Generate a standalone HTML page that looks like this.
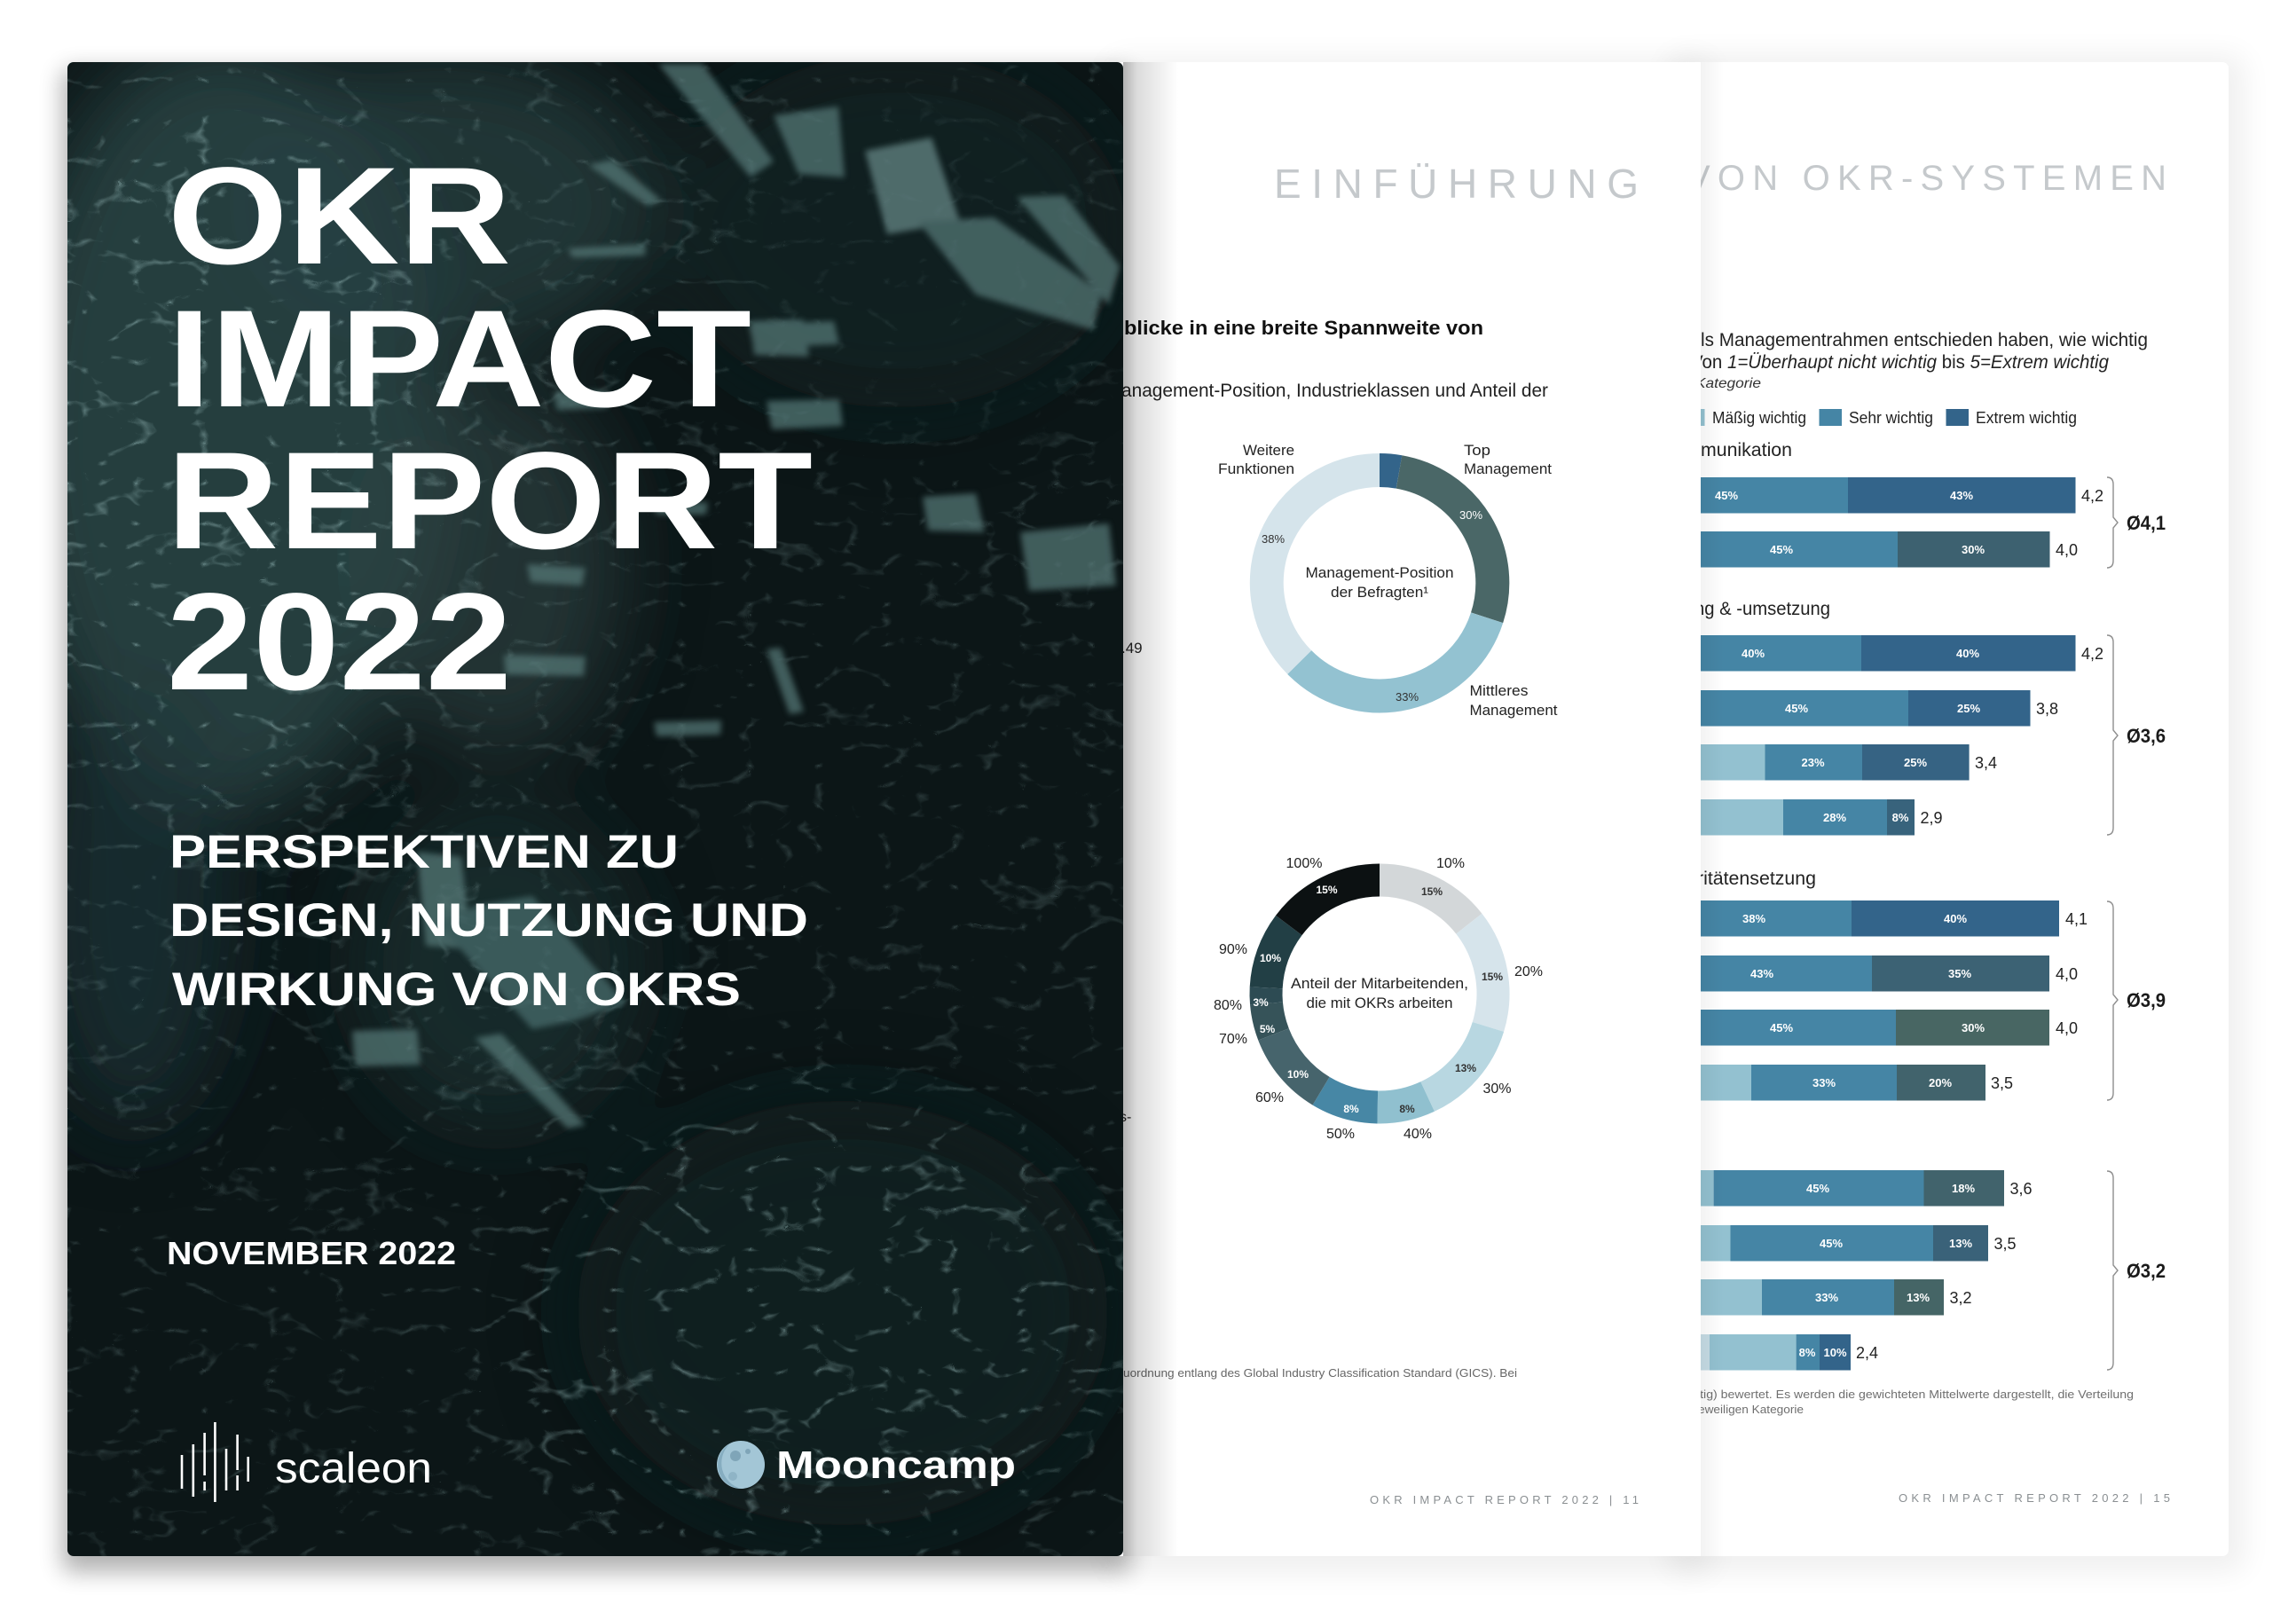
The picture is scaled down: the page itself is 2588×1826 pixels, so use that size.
<!DOCTYPE html>
<html lang="de">
<head>
<meta charset="utf-8">
<title>OKR Impact Report 2022</title>
<style>
  html,body{margin:0;padding:0;background:#ffffff;}
  body{width:2588px;height:1826px;overflow:hidden;}
  svg{display:block;}
  text{font-family:"Liberation Sans", Arial, sans-serif;}
</style>
</head>
<body>
<svg width="2588" height="1826" viewBox="0 0 2588 1826" xmlns="http://www.w3.org/2000/svg">
  <defs>
    <filter id="pageSh" filterUnits="userSpaceOnUse" x="0" y="0" width="2588" height="1826">
      <feGaussianBlur stdDeviation="16"/>
    </filter>
    <filter id="coverSh" filterUnits="userSpaceOnUse" x="0" y="0" width="2588" height="1826">
      <feGaussianBlur stdDeviation="13"/>
    </filter>
    <filter id="b45" filterUnits="userSpaceOnUse" x="0" y="0" width="1400" height="1826">
      <feGaussianBlur stdDeviation="45"/>
    </filter>
    <filter id="b3" filterUnits="userSpaceOnUse" x="0" y="0" width="1400" height="1826">
      <feGaussianBlur stdDeviation="3.5"/>
    </filter>
    <filter id="veins" filterUnits="userSpaceOnUse" x="76" y="70" width="1190" height="1684">
      <feTurbulence type="turbulence" baseFrequency="0.013 0.022" numOctaves="3" seed="5"/>
      <feColorMatrix type="matrix" values="0 0 0 0 0.32  0 0 0 0 0.50  0 0 0 0 0.50  -6 0 0 0 0.85"/>
    </filter>
    <mask id="veinMask" maskUnits="userSpaceOnUse" x="76" y="70" width="1190" height="1684">
      <rect x="76" y="70" width="1190" height="1684" fill="#777"/>
      <g filter="url(#b45)">
        <ellipse cx="250" cy="500" rx="250" ry="420" fill="#fff"/>
        <ellipse cx="900" cy="1500" rx="350" ry="260" fill="#eee"/>
        <ellipse cx="1050" cy="300" rx="220" ry="240" fill="#333"/>
      </g>
    </mask>
    <clipPath id="coverClip"><rect x="76" y="70" width="1190" height="1684" rx="7"/></clipPath>
    <clipPath id="midClip"><rect x="1250" y="70" width="667" height="1684" rx="6"/></clipPath>
    <clipPath id="rightClip"><rect x="1850" y="70" width="662" height="1684" rx="7"/></clipPath>
    <linearGradient id="spine" x1="0" y1="0" x2="1" y2="0">
      <stop offset="0" stop-color="#000" stop-opacity="0.30"/>
      <stop offset="0.25" stop-color="#000" stop-opacity="0.14"/>
      <stop offset="1" stop-color="#000" stop-opacity="0"/>
    </linearGradient>
    <linearGradient id="spine2" x1="0" y1="0" x2="1" y2="0">
      <stop offset="0" stop-color="#000" stop-opacity="0.05"/>
      <stop offset="1" stop-color="#000" stop-opacity="0"/>
    </linearGradient>
  </defs>

  <!-- background -->
  <rect x="0" y="0" width="2588" height="1826" fill="#ffffff"/>

  <!-- page shadows -->
  <rect x="1880" y="62" width="650" height="1710" rx="14" fill="#000" opacity="0.06" filter="url(#pageSh)"/>
  <rect x="1250" y="66" width="680" height="1708" rx="14" fill="#000" opacity="0.06" filter="url(#pageSh)"/>
  <rect x="70" y="78" width="1204" height="1694" rx="10" fill="#000" opacity="0.30" filter="url(#coverSh)"/>

  <!-- ================= RIGHT PAGE ================= -->
  <g clip-path="url(#rightClip)">
    <rect x="1850" y="70" width="662" height="1684" fill="#ffffff"/>
    <text x="1901" y="214" font-size="40" fill="#c5c9cc" textLength="541" lengthAdjust="spacing">VON OKR-SYSTEMEN</text>

    <text x="1917" y="390" font-size="21" fill="#222" textLength="504" lengthAdjust="spacingAndGlyphs">ls Managementrahmen entschieden haben, wie wichtig</text>
    <text x="1906" y="415" font-size="21" fill="#222" textLength="471" lengthAdjust="spacingAndGlyphs">Von <tspan font-style="italic">1=Überhaupt nicht wichtig</tspan> bis <tspan font-style="italic">5=Extrem wichtig</tspan></text>
    <text x="1911" y="437" font-size="16" font-style="italic" fill="#333" textLength="74" lengthAdjust="spacingAndGlyphs">Kategorie</text>

    <!-- legend -->
    <rect x="1900" y="461" width="21.5" height="19" fill="#93c1d0"/>
    <text x="1930" y="477" font-size="18" fill="#222" textLength="106" lengthAdjust="spacingAndGlyphs">Mäßig wichtig</text>
    <rect x="2050.5" y="461" width="25.5" height="19" fill="#4585a5"/>
    <text x="2084" y="477" font-size="18" fill="#222" textLength="95" lengthAdjust="spacingAndGlyphs">Sehr wichtig</text>
    <rect x="2193.5" y="461" width="25.5" height="19" fill="#33648a"/>
    <text x="2227" y="477" font-size="18" fill="#222" textLength="114" lengthAdjust="spacingAndGlyphs">Extrem wichtig</text>

    <!-- group headers -->
    <text x="1917" y="514" font-size="21" fill="#222" textLength="103" lengthAdjust="spacingAndGlyphs">munikation</text>
    <text x="1910" y="693" font-size="21" fill="#222" textLength="153" lengthAdjust="spacingAndGlyphs">ng &amp; -umsetzung</text>
    <text x="1913" y="997" font-size="21" fill="#222" textLength="134" lengthAdjust="spacingAndGlyphs">ritätensetzung</text>

    <!-- bars group 1 -->
    <rect x="1900" y="538" width="183" height="40.5" fill="#4585a5"/>
    <rect x="2083" y="538" width="256.5" height="40.5" fill="#33648a"/>
    <rect x="1900" y="599" width="239" height="40.5" fill="#4585a5"/>
    <rect x="2139" y="599" width="171.5" height="40.5" fill="#3d6170"/>
    <!-- group 2 -->
    <rect x="1900" y="716" width="198" height="40.5" fill="#4585a5"/>
    <rect x="2098" y="716" width="241.5" height="40.5" fill="#33648a"/>
    <rect x="1900" y="778" width="251" height="40.5" fill="#4585a5"/>
    <rect x="2151" y="778" width="137.5" height="40.5" fill="#33648a"/>
    <rect x="1900" y="839" width="89.5" height="40.5" fill="#93c1d0"/>
    <rect x="1989.5" y="839" width="109.5" height="40.5" fill="#4585a5"/>
    <rect x="2099" y="839" width="120.6" height="40.5" fill="#366383"/>
    <rect x="1900" y="901" width="110" height="40.5" fill="#93c1d0"/>
    <rect x="2010" y="901" width="117" height="40.5" fill="#4585a5"/>
    <rect x="2127" y="901" width="31" height="40.5" fill="#38637c"/>
    <!-- group 3 -->
    <rect x="1900" y="1015" width="187" height="40.5" fill="#4585a5"/>
    <rect x="2087" y="1015" width="234" height="40.5" fill="#33648a"/>
    <rect x="1900" y="1077" width="210" height="40.5" fill="#4585a5"/>
    <rect x="2110" y="1077" width="200" height="40.5" fill="#3c6274"/>
    <rect x="1900" y="1138" width="237" height="40.5" fill="#4585a5"/>
    <rect x="2137" y="1138" width="173" height="40.5" fill="#486663"/>
    <rect x="1900" y="1200" width="74" height="40.5" fill="#93c1d0"/>
    <rect x="1974" y="1200" width="164" height="40.5" fill="#4585a5"/>
    <rect x="2138" y="1200" width="100" height="40.5" fill="#41636c"/>
    <!-- group 4 -->
    <rect x="1900" y="1319" width="31.6" height="40.5" fill="#93c1d0"/>
    <rect x="1931.6" y="1319" width="236.9" height="40.5" fill="#4585a5"/>
    <rect x="2168.5" y="1319" width="90.5" height="40.5" fill="#41636c"/>
    <rect x="1900" y="1381" width="50.5" height="40.5" fill="#93c1d0"/>
    <rect x="1950.5" y="1381" width="228.5" height="40.5" fill="#4585a5"/>
    <rect x="2179" y="1381" width="62" height="40.5" fill="#3a6279"/>
    <rect x="1900" y="1442" width="86" height="40.5" fill="#93c1d0"/>
    <rect x="1986" y="1442" width="149" height="40.5" fill="#4585a5"/>
    <rect x="2135" y="1442" width="56" height="40.5" fill="#456566"/>
    <rect x="1900" y="1504" width="27" height="40.5" fill="#c6dce5"/>
    <rect x="1927" y="1504" width="97.6" height="40.5" fill="#93c1d0"/>
    <rect x="2024.6" y="1504" width="26.4" height="40.5" fill="#4585a5"/>
    <rect x="2051" y="1504" width="35" height="40.5" fill="#33648a"/>

    <!-- bar labels -->
    <g font-size="13" font-weight="bold" fill="#ffffff" text-anchor="middle">
      <text x="1946" y="563">45%</text><text x="2211" y="563">43%</text>
      <text x="2008" y="624">45%</text><text x="2224" y="624">30%</text>
      <text x="1976" y="741">40%</text><text x="2218" y="741">40%</text>
      <text x="2025" y="803">45%</text><text x="2219" y="803">25%</text>
      <text x="2043.5" y="864">23%</text><text x="2159" y="864">25%</text>
      <text x="2068" y="926">28%</text><text x="2142" y="926">8%</text>
      <text x="1977" y="1040">38%</text><text x="2204" y="1040">40%</text>
      <text x="1986" y="1102">43%</text><text x="2209" y="1102">35%</text>
      <text x="2008" y="1163">45%</text><text x="2224" y="1163">30%</text>
      <text x="2056" y="1225">33%</text><text x="2187" y="1225">20%</text>
      <text x="2049" y="1344">45%</text><text x="2213" y="1344">18%</text>
      <text x="2064" y="1406">45%</text><text x="2210" y="1406">13%</text>
      <text x="2059" y="1467">33%</text><text x="2162" y="1467">13%</text>
      <text x="2037" y="1529">8%</text><text x="2068.5" y="1529">10%</text>
    </g>
    <!-- value labels -->
    <g font-size="18" fill="#222">
      <text x="2346" y="565">4,2</text>
      <text x="2317" y="626">4,0</text>
      <text x="2346" y="743">4,2</text>
      <text x="2295" y="805">3,8</text>
      <text x="2226" y="866">3,4</text>
      <text x="2164.5" y="928">2,9</text>
      <text x="2328" y="1042">4,1</text>
      <text x="2317" y="1104">4,0</text>
      <text x="2317" y="1165">4,0</text>
      <text x="2244" y="1227">3,5</text>
      <text x="2265.5" y="1346">3,6</text>
      <text x="2247.5" y="1408">3,5</text>
      <text x="2197.5" y="1469">3,2</text>
      <text x="2092" y="1531">2,4</text>
    </g>
    <!-- braces -->
    <g fill="none" stroke="#8e8e8e" stroke-width="1.4">
      <path d="M2375,538 q7,0 7,8 V583 l5,6 l-5,6 V632 q0,8 -7,8"/>
      <path d="M2375,716 q7,0 7,8 V823 l5,6 l-5,6 V933 q0,8 -7,8"/>
      <path d="M2375,1016 q7,0 7,8 V1121 l5,6 l-5,6 V1232 q0,8 -7,8"/>
      <path d="M2375,1320 q7,0 7,8 V1426 l5,6 l-5,6 V1536 q0,8 -7,8"/>
    </g>
    <g font-size="22" font-weight="bold" fill="#1a1a1a">
      <text x="2397" y="597" textLength="44" lengthAdjust="spacingAndGlyphs">Ø4,1</text>
      <text x="2397" y="837" textLength="44" lengthAdjust="spacingAndGlyphs">Ø3,6</text>
      <text x="2397" y="1135" textLength="44" lengthAdjust="spacingAndGlyphs">Ø3,9</text>
      <text x="2397" y="1440" textLength="44" lengthAdjust="spacingAndGlyphs">Ø3,2</text>
    </g>

    <!-- footnote -->
    <text x="1913" y="1576" font-size="12.5" fill="#6f6f6f" textLength="492" lengthAdjust="spacingAndGlyphs">itig) bewertet. Es werden die gewichteten Mittelwerte dargestellt, die Verteilung</text>
    <text x="1914" y="1593" font-size="12.5" fill="#6f6f6f" textLength="119" lengthAdjust="spacingAndGlyphs">eweiligen Kategorie</text>

    <!-- footer -->
    <text x="2140" y="1693" font-size="13" fill="#8a8f92" textLength="306" lengthAdjust="spacing">OKR IMPACT REPORT 2022 | 15</text>

    <!-- overlap shadow from middle page -->
    <rect x="1917" y="70" width="26" height="1684" fill="url(#spine2)"/>
  </g>

  <!-- ================= MIDDLE PAGE ================= -->
  <g clip-path="url(#midClip)">
    <rect x="1250" y="70" width="667" height="1684" fill="#ffffff"/>
    <text x="1436" y="223" font-size="46" fill="#c5c9cc" textLength="411" lengthAdjust="spacing">EINFÜHRUNG</text>

    <text x="1267" y="377" font-size="22" font-weight="bold" fill="#111" textLength="405" lengthAdjust="spacingAndGlyphs">blicke in eine breite Spannweite von</text>
    <text x="1264" y="447" font-size="21" fill="#222" textLength="481" lengthAdjust="spacingAndGlyphs">anagement-Position, Industrieklassen und Anteil der</text>
    <text x="1264" y="736" font-size="17" fill="#222">.49</text>
    <text x="1262" y="1264" font-size="16" fill="#222">s-</text>

    <!-- donut 1 -->
    <g fill="none" stroke-width="38">
      <path d="M1555,530 A127,127 0 0 1 1577.05,531.93" stroke="#33648a"/>
      <path d="M1577.05,531.93 A127,127 0 0 1 1676.1,696.3" stroke="#4a6767"/>
      <path d="M1676.1,696.3 A127,127 0 0 1 1464.7,746.5" stroke="#93c2d1"/>
      <path d="M1464.7,746.5 A127,127 0 0 1 1555,530" stroke="#d5e4eb"/>
    </g>
    <g font-size="17" fill="#222">
      <text x="1459" y="513" text-anchor="end" textLength="58" lengthAdjust="spacingAndGlyphs">Weitere</text>
      <text x="1459" y="534" text-anchor="end" textLength="86" lengthAdjust="spacingAndGlyphs">Funktionen</text>
      <text x="1650" y="513" textLength="30" lengthAdjust="spacingAndGlyphs">Top</text>
      <text x="1650" y="534" textLength="99" lengthAdjust="spacingAndGlyphs">Management</text>
      <text x="1656.5" y="784" textLength="66" lengthAdjust="spacingAndGlyphs">Mittleres</text>
      <text x="1656.5" y="806" textLength="99" lengthAdjust="spacingAndGlyphs">Management</text>
      <text x="1555" y="651" text-anchor="middle" textLength="167" lengthAdjust="spacingAndGlyphs">Management-Position</text>
      <text x="1555" y="673" text-anchor="middle" textLength="110" lengthAdjust="spacingAndGlyphs">der Befragten¹</text>
    </g>
    <g font-size="13" text-anchor="middle">
      <text x="1658" y="585" fill="#ffffff">30%</text>
      <text x="1435" y="612" fill="#333">38%</text>
      <text x="1586" y="790" fill="#333">33%</text>
    </g>

    <!-- donut 2 -->
    <g fill="none" stroke-width="37">
      <path d="M1555,992 A128,128 0 0 1 1655.87,1041.19" stroke="#d3d7d9"/>
      <path d="M1655.87,1041.19 A128,128 0 0 1 1677.41,1157.42" stroke="#d6e4eb"/>
      <path d="M1677.41,1157.42 A128,128 0 0 1 1609.09,1236.01" stroke="#b8d7e1"/>
      <path d="M1609.09,1236.01 A128,128 0 0 1 1552.77,1247.98" stroke="#90c0cf"/>
      <path d="M1552.77,1247.98 A128,128 0 0 1 1489.08,1229.72" stroke="#4787a5"/>
      <path d="M1489.08,1229.72 A128,128 0 0 1 1435.5,1165.87" stroke="#46646c"/>
      <path d="M1435.5,1165.87 A128,128 0 0 1 1427.49,1131.16" stroke="#365359"/>
      <path d="M1427.49,1131.16 A128,128 0 0 1 1427.18,1113.3" stroke="#2d4b53"/>
      <path d="M1427.18,1113.3 A128,128 0 0 1 1452.78,1042.97" stroke="#223f45"/>
      <path d="M1452.78,1042.97 A128,128 0 0 1 1555,992" stroke="#0c1112"/>
    </g>
    <g font-size="12" font-weight="bold" text-anchor="middle">
      <text x="1614" y="1009" fill="#333">15%</text>
      <text x="1682" y="1105" fill="#333">15%</text>
      <text x="1652" y="1208" fill="#333">13%</text>
      <text x="1586" y="1254" fill="#333">8%</text>
      <text x="1523" y="1254" fill="#fff">8%</text>
      <text x="1463" y="1215" fill="#fff">10%</text>
      <text x="1428.5" y="1164" fill="#fff">5%</text>
      <text x="1421" y="1134" fill="#fff">3%</text>
      <text x="1432" y="1084" fill="#fff">10%</text>
      <text x="1495.5" y="1007" fill="#fff">15%</text>
    </g>
    <g font-size="16" fill="#222" text-anchor="middle">
      <text x="1470" y="978">100%</text>
      <text x="1635" y="978">10%</text>
      <text x="1723" y="1100">20%</text>
      <text x="1687.5" y="1232">30%</text>
      <text x="1598" y="1283">40%</text>
      <text x="1511" y="1283">50%</text>
      <text x="1431" y="1242">60%</text>
      <text x="1390" y="1176">70%</text>
      <text x="1384" y="1138">80%</text>
      <text x="1390" y="1075">90%</text>
    </g>
    <g font-size="17" fill="#222" text-anchor="middle">
      <text x="1555" y="1114" textLength="200" lengthAdjust="spacingAndGlyphs">Anteil der Mitarbeitenden,</text>
      <text x="1555" y="1136" textLength="165" lengthAdjust="spacingAndGlyphs">die mit OKRs arbeiten</text>
    </g>

    <text x="1266" y="1552" font-size="13" fill="#666" textLength="444" lengthAdjust="spacingAndGlyphs">uordnung entlang des Global Industry Classification Standard (GICS). Bei</text>
    <text x="1544" y="1695" font-size="13" fill="#8a8f92" textLength="303" lengthAdjust="spacing">OKR IMPACT REPORT 2022 | 11</text>

    <!-- spine shadow -->
    <rect x="1266" y="70" width="62" height="1684" fill="url(#spine)"/>
  </g>

  <!-- ================= COVER ================= -->
  <g clip-path="url(#coverClip)">
    <rect x="76" y="70" width="1190" height="1684" fill="#0c1617"/>
    <g filter="url(#b45)">
      <ellipse cx="250" cy="480" rx="250" ry="440" fill="#2c4546" opacity="0.85"/>
      <ellipse cx="500" cy="230" rx="240" ry="170" fill="#284142" opacity="0.7"/>
      <ellipse cx="560" cy="640" rx="140" ry="210" fill="#354d4d" opacity="0.55"/>
      <ellipse cx="150" cy="1020" rx="110" ry="250" fill="#203536" opacity="0.7"/>
      <ellipse cx="560" cy="1090" rx="160" ry="180" fill="#213637" opacity="0.6"/>
      <ellipse cx="1010" cy="260" rx="260" ry="200" fill="#182a2b" opacity="0.55"/>
      <ellipse cx="950" cy="1480" rx="300" ry="240" fill="#132324" opacity="0.7"/>
    </g>
    <rect x="76" y="70" width="1190" height="1684" filter="url(#veins)" opacity="0.55" mask="url(#veinMask)"/>
    <g filter="url(#b3)" fill="#587c7a" opacity="0.7">
      <polygon points="742,72 792,72 872,182 846,200"/>
      <polygon points="872,130 945,120 952,200 900,196"/>
      <polygon points="975,170 1050,155 1082,250 1000,264" fill="#6a8c8b"/>
      <polygon points="1035,250 1120,245 1242,330 1232,372 1100,332"/>
      <polygon points="1146,222 1200,220 1262,300 1250,344"/>
      <polygon points="663,186 690,180 746,226 730,232"/>
      <polygon points="640,280 728,275 727,288 645,290"/>
      <polygon points="844,366 940,362 946,388 850,392"/>
      <polygon points="864,452 946,450 950,480 870,484"/>
      <polygon points="624,442 686,440 684,460 628,462"/>
      <polygon points="737,568 798,566 796,580 740,580"/>
      <polygon points="594,636 660,640 656,660 598,656"/>
      <polygon points="568,738 660,740 658,762 570,760"/>
      <polygon points="864,732 880,730 906,802 890,805"/>
      <polygon points="737,814 813,812 812,828 740,830"/>
      <polygon points="846,362 905,360 912,402 850,400"/>
      <polygon points="1040,560 1100,556 1110,600 1046,598"/>
      <polygon points="1150,600 1250,590 1258,660 1160,666"/>
      <polygon points="470,960 520,966 532,1070 480,1066"/>
      <polygon points="492,1040 540,1020 650,1150 600,1160" fill="#4c706f"/>
      <polygon points="540,1020 600,1010 705,1130 650,1150" fill="#4c706f"/>
      <polygon points="535,1170 565,1165 660,1268 640,1272"/>
      <polygon points="397,1162 470,1160 474,1200 400,1202"/>
    </g>

    <!-- cover text -->
    <g fill="#ffffff" font-weight="bold">
      <text x="189" y="297" font-size="156" textLength="387" lengthAdjust="spacingAndGlyphs">OKR</text>
      <text x="189" y="458" font-size="156" textLength="658" lengthAdjust="spacingAndGlyphs">IMPACT</text>
      <text x="188" y="618" font-size="156" textLength="728" lengthAdjust="spacingAndGlyphs">REPORT</text>
      <text x="188" y="777" font-size="156" textLength="389" lengthAdjust="spacingAndGlyphs">2022</text>
      <text x="191" y="978" font-size="53" textLength="574" lengthAdjust="spacingAndGlyphs">PERSPEKTIVEN ZU</text>
      <text x="191" y="1055" font-size="53" textLength="720" lengthAdjust="spacingAndGlyphs">DESIGN, NUTZUNG UND</text>
      <text x="194" y="1133" font-size="53" textLength="641" lengthAdjust="spacingAndGlyphs">WIRKUNG VON OKRS</text>
      <text x="188" y="1425" font-size="36" textLength="326" lengthAdjust="spacingAndGlyphs">NOVEMBER 2022</text>
    </g>

    <!-- scaleon logo -->
    <g stroke="#ffffff" stroke-width="2.6" stroke-linecap="butt">
      <line x1="205" y1="1640" x2="205" y2="1678"/>
      <line x1="217.8" y1="1628" x2="217.8" y2="1687"/>
      <line x1="230.6" y1="1615" x2="230.6" y2="1663"/>
      <line x1="230.6" y1="1670" x2="230.6" y2="1680"/>
      <line x1="242.4" y1="1603" x2="242.4" y2="1693"/>
      <line x1="255" y1="1633" x2="255" y2="1680"/>
      <line x1="267.6" y1="1617" x2="267.6" y2="1657"/>
      <line x1="267.6" y1="1663" x2="267.6" y2="1680"/>
      <line x1="279.7" y1="1642" x2="279.7" y2="1670"/>
    </g>
    <text x="310" y="1671" font-size="48" fill="#ffffff" textLength="177" lengthAdjust="spacingAndGlyphs">scaleon</text>

    <!-- Mooncamp logo -->
    <circle cx="835" cy="1651" r="27" fill="#a3c6d6"/>
    <path d="M822,1628 A27,27 0 0 0 835,1678 A30,30 0 0 1 822,1628 Z" fill="#86adc0"/>
    <circle cx="829" cy="1641" r="6" fill="#7fa5b8"/>
    <circle cx="843" cy="1636" r="3" fill="#7fa5b8"/>
    <circle cx="826" cy="1664" r="5" fill="#8fb4c6"/>
    <text x="875" y="1666" font-size="44" font-weight="bold" fill="#ffffff" textLength="270" lengthAdjust="spacingAndGlyphs">Mooncamp</text>
  </g>
</svg>
</body>
</html>
